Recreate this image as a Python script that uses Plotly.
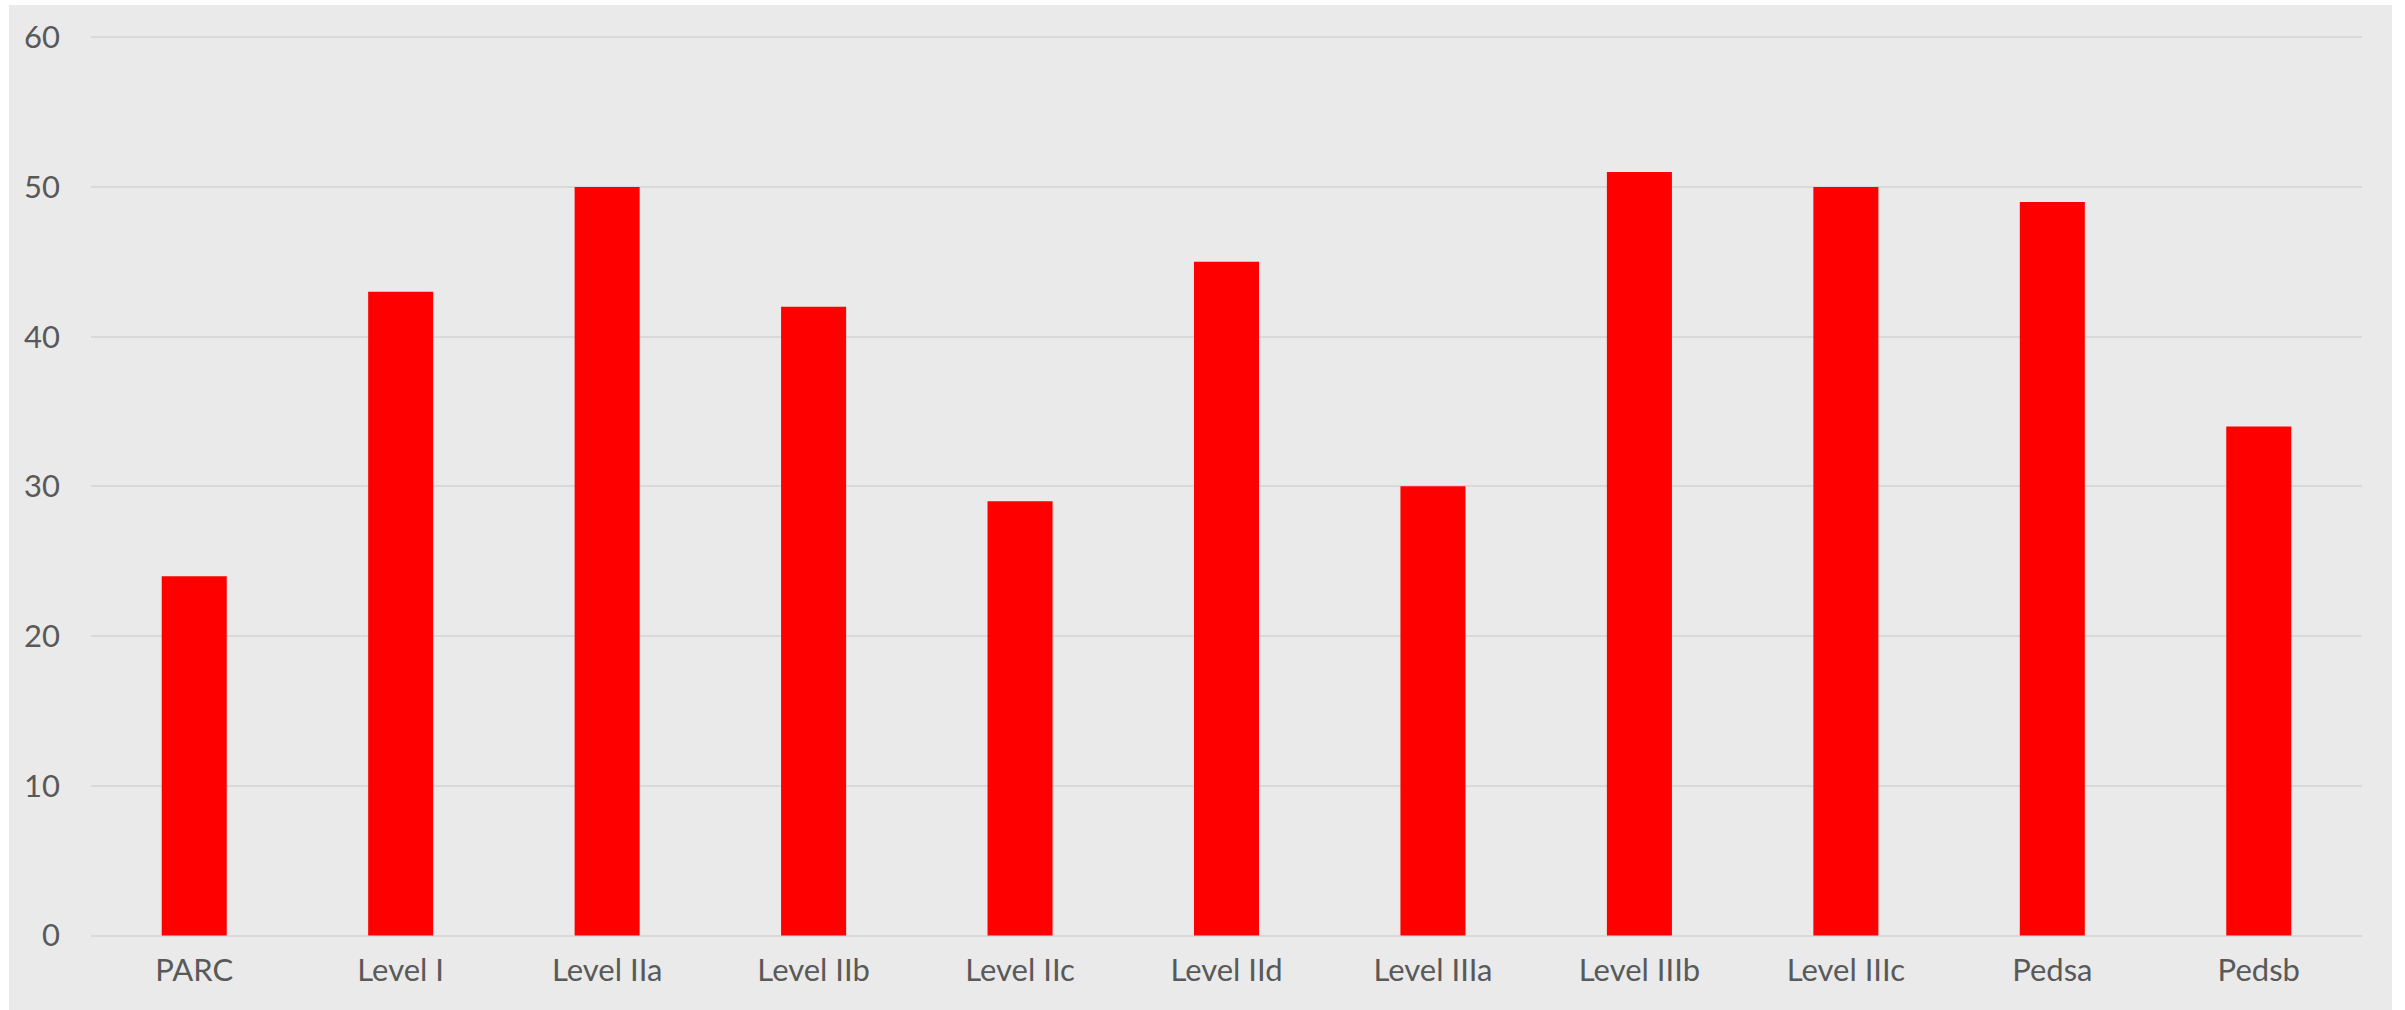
import plotly.graph_objects as go

categories = ["PARC", "Level I", "Level IIa", "Level IIb", "Level IIc", "Level IId",
              "Level IIIa", "Level IIIb", "Level IIIc", "Pedsa", "Pedsb"]
values = [24, 43, 50, 42, 29, 45, 30, 51, 50, 49, 34]
y_ticks = [0, 10, 20, 30, 40, 50, 60]

W, H = 2405, 1010
ml, mr, mt, mb = 91, 43, 35, 73
pw = W - ml - mr
ph = H - mt - mb

font = dict(family="Century Gothic, Lato, DejaVu Sans, sans-serif", size=31, color="#595959")

fig = go.Figure(go.Bar(
    x=categories, y=values,
    marker=dict(color="#FF0000", line=dict(width=0)),
))

# grey chart-area panel with a thin white frame around it
fig.add_shape(
    type="rect", xref="paper", yref="paper", layer="below",
    x0=(9 - ml) / pw, x1=(2392 - ml) / pw,
    y0=-(H - mt - ph) / ph - 0.01, y1=1 + (mt - 5) / ph,
    fillcolor="#EAEAEA", line=dict(width=0),
)

fig.update_layout(
    width=W, height=H,
    margin=dict(l=ml, r=mr, t=mt, b=mb),
    paper_bgcolor="white",
    plot_bgcolor="rgba(0,0,0,0)",
    bargap=0.685,
    showlegend=False,
    font=font,
    xaxis=dict(showgrid=False, showline=False, ticks="", tickfont=font, ticklabelstandoff=12),
    yaxis=dict(range=[-0.1, 60.15], tickvals=y_ticks, showgrid=True, gridcolor="#D9D9D9", gridwidth=2,
               zeroline=False, showline=False, ticks="", tickfont=font, ticklabelstandoff=30),
)

fig.write_html("out.html")
